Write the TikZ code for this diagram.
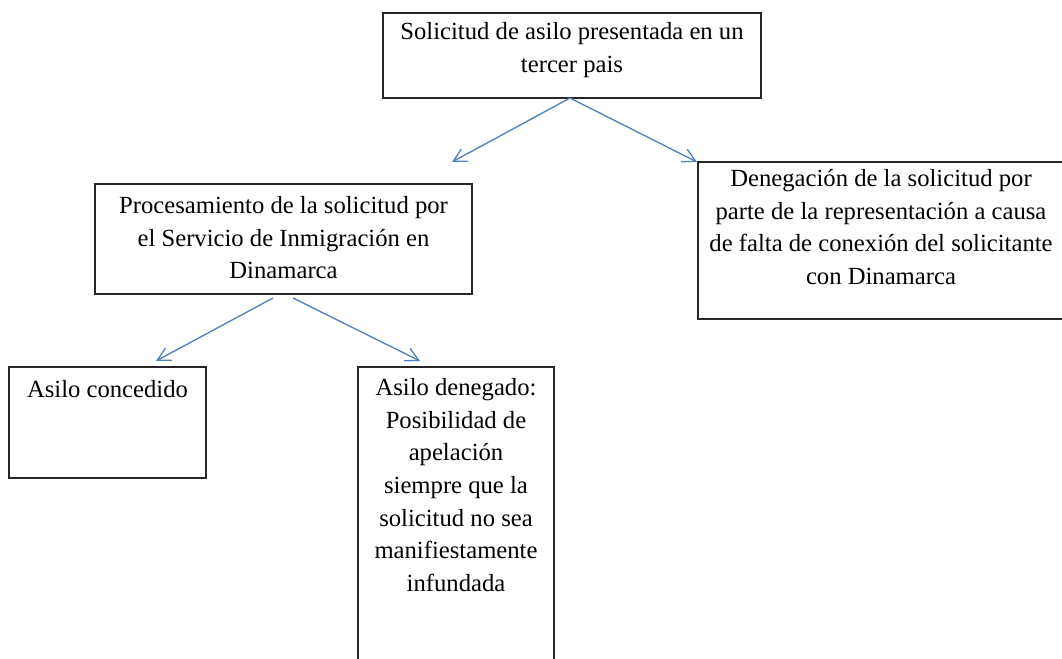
\documentclass[tikz,border=0pt]{standalone}
\usepackage{fontspec}
\setmainfont{Liberation Serif}
\usetikzlibrary{arrows.meta,fit}
\definecolor{arrowblue}{RGB}{79,129,189}
\begin{document}
\begin{tikzpicture}[x=0.75pt,y=-0.75pt,
  box/.style={draw=black!85, line width=1pt, inner sep=0pt},
  txt/.style={anchor=north, inner sep=0pt, align=center, font=\fontsize{18.5pt}{24.5pt}\selectfont},
  arr/.style={draw=arrowblue, line width=1pt, -{Straight Barb[angle=56:11pt]}}]
\useasboundingbox (0,0) rectangle (1062,659);
\clip (0,0) rectangle (1062,659);
\node[box, fit={(383,13)(761,98)}] (top) {};
\node[txt] (ttop) at (572,22) {Solicitud de asilo presentada en un\\tercer pais};
\node[box, fit={(95,184)(472,294)}] (proc) {};
\node[txt] (tproc) at (283.5,196) {Procesamiento de la solicitud por\\el Servicio de Inmigración en\\Dinamarca};
\node[box, fit={(698,162)(1064,319)}] (den) {};
\node[txt] (tden) at (881,169) {Denegación de la solicitud por\\parte de la representación a causa\\de falta de conexión del solicitante\\con Dinamarca};
\node[box, fit={(9,367)(206,478)}] (conc) {};
\node[txt] (tconc) at (107.5,380) {Asilo concedido};
\node[box, fit={(358,367)(554,690)}] (deng) {};
\node[txt] (tdeng) at (456,378) {Asilo denegado:\\Posibilidad de\\apelación\\siempre que la\\solicitud no sea\\manifiestamente\\infundada};
\coordinate (s1) at (570,98);
\coordinate (e1) at (452,162);
\coordinate (e2) at (697,162);
\coordinate (s2) at (273,298);
\coordinate (s3) at (293,298);
\coordinate (e3) at (156,361);
\coordinate (e4) at (420,361);
\draw[arr] (s1) -- (e1);
\draw[arr] (s1) -- (e2);
\draw[arr] (s2) -- (e3);
\draw[arr] (s3) -- (e4);
\end{tikzpicture}
\end{document}
